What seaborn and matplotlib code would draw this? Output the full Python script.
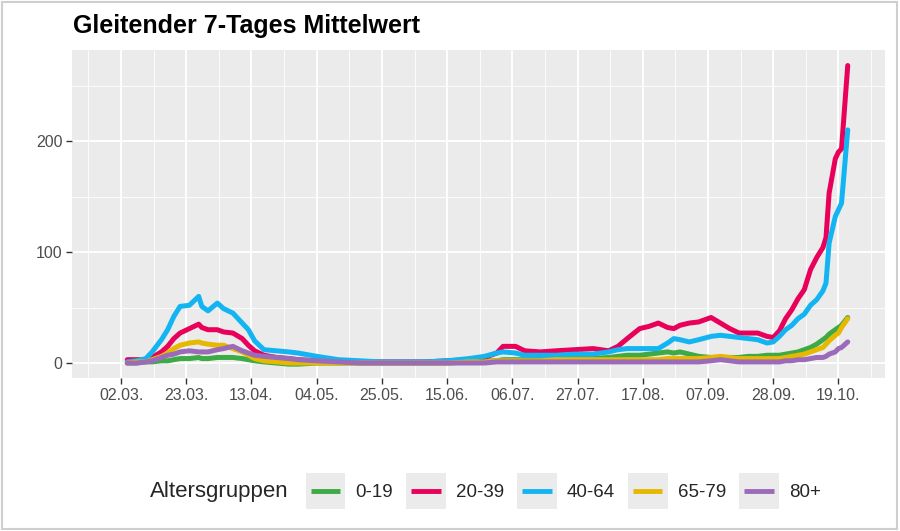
import pandas as pd
import matplotlib
matplotlib.use("Agg")
import matplotlib.pyplot as plt
import matplotlib.dates as mdates
from matplotlib.lines import Line2D
from matplotlib.patches import Rectangle
from matplotlib.legend_handler import HandlerBase
import seaborn as sns

# Tage seit 02.03.2020
tage = [2, 5, 8, 10, 13, 15, 17, 19, 22, 25, 26, 28, 31, 33, 36, 39, 41, 43, 46, 50,
        54, 57, 63, 70, 77, 84, 91, 98, 105, 112, 117, 121, 123, 127, 130, 135, 140, 146, 152, 157,
        160, 163, 167, 170, 173, 176, 178, 180, 183, 186, 190, 193, 196, 199, 202, 205, 208, 210, 212, 214,
        216, 218, 220, 222, 224, 226, 227, 228, 230, 231, 232, 234]

gruppen = ["0-19", "20-39", "40-64", "65-79", "80+"]

werte_0_19 = [0, 0, 1, 1, 2, 2, 3, 4, 4, 5, 4, 4, 5, 5, 5, 4, 3, 2, 1, 0,
              -1, -1, 0, 0, 0, 0, 0, 0, 0, 1, 2, 2, 3, 3, 3, 3, 3, 4, 4, 5,
              6, 7, 7, 8, 9, 10, 9, 10, 8, 6, 5, 5, 5, 5, 6, 6, 7, 7, 7, 8,
              9, 10, 12, 14, 17, 21, 23, 26, 30, 32, 34, 41]
werte_20_39 = [3, 3, 3, 5, 10, 15, 22, 27, 31, 35, 32, 30, 30, 28, 27, 22, 16, 11, 7, 5,
               4, 3, 2, 1, 1, 1, 1, 1, 2, 3, 5, 9, 15, 15, 11, 10, 11, 12, 13, 11,
               15, 22, 31, 33, 36, 32, 31, 34, 36, 37, 41, 36, 31, 27, 27, 27, 24, 23, 29, 40,
               48, 58, 66, 84, 95, 104, 113, 153, 184, 190, 193, 268]
werte_40_64 = [1, 2, 4, 10, 21, 30, 42, 51, 52, 60, 51, 47, 54, 49, 45, 36, 30, 20, 12, 11,
               10, 9, 6, 3, 2, 1, 1, 1, 2, 4, 6, 9, 10, 9, 7, 7, 7, 8, 8, 10,
               12, 13, 13, 13, 13, 18, 22, 21, 19, 21, 24, 25, 24, 23, 22, 21, 18, 19, 24, 30,
               34, 40, 44, 52, 57, 65, 72, 108, 132, 138, 144, 210]
werte_65_79 = [0, 1, 1, 3, 6, 9, 13, 16, 18, 19, 18, 17, 16, 16, 13, 10, 7, 4, 2, 1,
               0, 0, 0, 0, 0, 0, 0, 0, 0, 1, 1, 2, 2, 2, 2, 2, 3, 3, 3, 3,
               3, 3, 3, 3, 3, 4, 4, 4, 4, 4, 5, 6, 5, 4, 4, 4, 4, 4, 4, 5,
               6, 7, 8, 10, 12, 14, 17, 20, 25, 27, 32, 40]
werte_80 = [0, 0, 1, 2, 5, 7, 8, 10, 11, 10, 10, 10, 12, 13, 15, 11, 9, 7, 6, 5,
            4, 3, 2, 1, 0, 0, 0, 0, 0, 0, 0, 1, 1, 1, 1, 1, 1, 1, 1, 1,
            1, 1, 1, 1, 1, 1, 1, 1, 1, 1, 2, 3, 2, 1, 1, 1, 1, 1, 1, 2,
            2, 3, 3, 4, 5, 5, 6, 8, 10, 13, 14, 19]

farben = {"0-19": "#3DAA45", "20-39": "#E8005A", "40-64": "#12B5F2",
          "65-79": "#E6B800", "80+": "#9B6BB9"}

start = pd.Timestamp("2020-03-02")
datum = [start + pd.Timedelta(days=t) for t in tage]
alle = [werte_0_19, werte_20_39, werte_40_64, werte_65_79, werte_80]
df = pd.concat([pd.DataFrame({"datum": datum, "wert": w, "gruppe": g})
                for g, w in zip(gruppen, alle)], ignore_index=True)


class KeyHandler(HandlerBase):
    # ggplot-artige Legendenschluessel mit grauem Kasten
    def create_artists(self, legend, orig_handle, xdescent, ydescent, width, height, fontsize, trans):
        bg = Rectangle((-xdescent, -ydescent), width, height, facecolor="#EBEBEB",
                       edgecolor="none", transform=trans)
        y = -ydescent + height / 2
        ln = Line2D([-xdescent + 0.13 * width, -xdescent + 0.87 * width], [y, y],
                    color=orig_handle.get_color(), lw=3.5, solid_capstyle="butt", transform=trans)
        return [bg, ln]


sns.set_theme(style="darkgrid", rc={"axes.facecolor": "#EBEBEB", "grid.color": "white"})
plt.rcParams["font.family"] = ["Liberation Sans", "DejaVu Sans"]

fig = plt.figure(figsize=(9, 5.31), dpi=100)
ax = fig.add_axes([72 / 900, 1 - 378 / 531, 813 / 900, 328 / 531])

sns.lineplot(data=df, x="datum", y="wert", hue="gruppe", hue_order=gruppen, palette=farben,
             linewidth=3.6, legend=False, estimator=None, ax=ax)

ax.set_xlim(start - pd.Timedelta(days=15.8), start + pd.Timedelta(days=246))
ax.set_ylim(-13.5, 282)
ax.set_xticks(pd.date_range("2020-03-02", periods=12, freq="21D"))
ax.set_xticks(pd.date_range("2020-02-20 12:00", periods=13, freq="21D"), minor=True)
ax.xaxis.set_major_formatter(mdates.DateFormatter("%d.%m."))
ax.set_yticks([0, 100, 200])
ax.set_yticks([50, 150, 250], minor=True)
ax.grid(which="major", color="white", linewidth=1.3)
ax.grid(which="minor", color="white", linewidth=0.6)
ax.tick_params(which="major", length=4, width=1, color="#333333", labelsize=11.5,
               labelcolor="#4D4D4D", pad=3, bottom=True, left=True)
ax.tick_params(which="minor", length=0)
ax.set_xlabel("")
ax.set_ylabel("")
for s in ax.spines.values():
    s.set_visible(False)

fig.text(73 / 900, 1 - 26 / 531, "Gleitender 7-Tages Mittelwert", fontsize=18,
         fontweight="bold", color="black", va="center", ha="left")

handles = [Line2D([0], [0], color=farben[g]) for g in gruppen]
fig.text(150 / 900, 1 - 491 / 531, "Altersgruppen", fontsize=16, va="center", ha="left")
fig.legend(handles, gruppen, loc="center left", bbox_to_anchor=(289 / 900, 1 - 491 / 531),
           ncol=5, frameon=False, fontsize=13.5, handlelength=2.1, handleheight=2.5,
           handletextpad=0.55, columnspacing=0.7,
           handler_map={Line2D: KeyHandler()})

fig.patches.append(Rectangle((0.002, 0.003), 0.995, 0.993, transform=fig.transFigure,
                             fill=False, edgecolor="#CFCFCF", linewidth=1.5))

fig.savefig("out.png", dpi=100)
